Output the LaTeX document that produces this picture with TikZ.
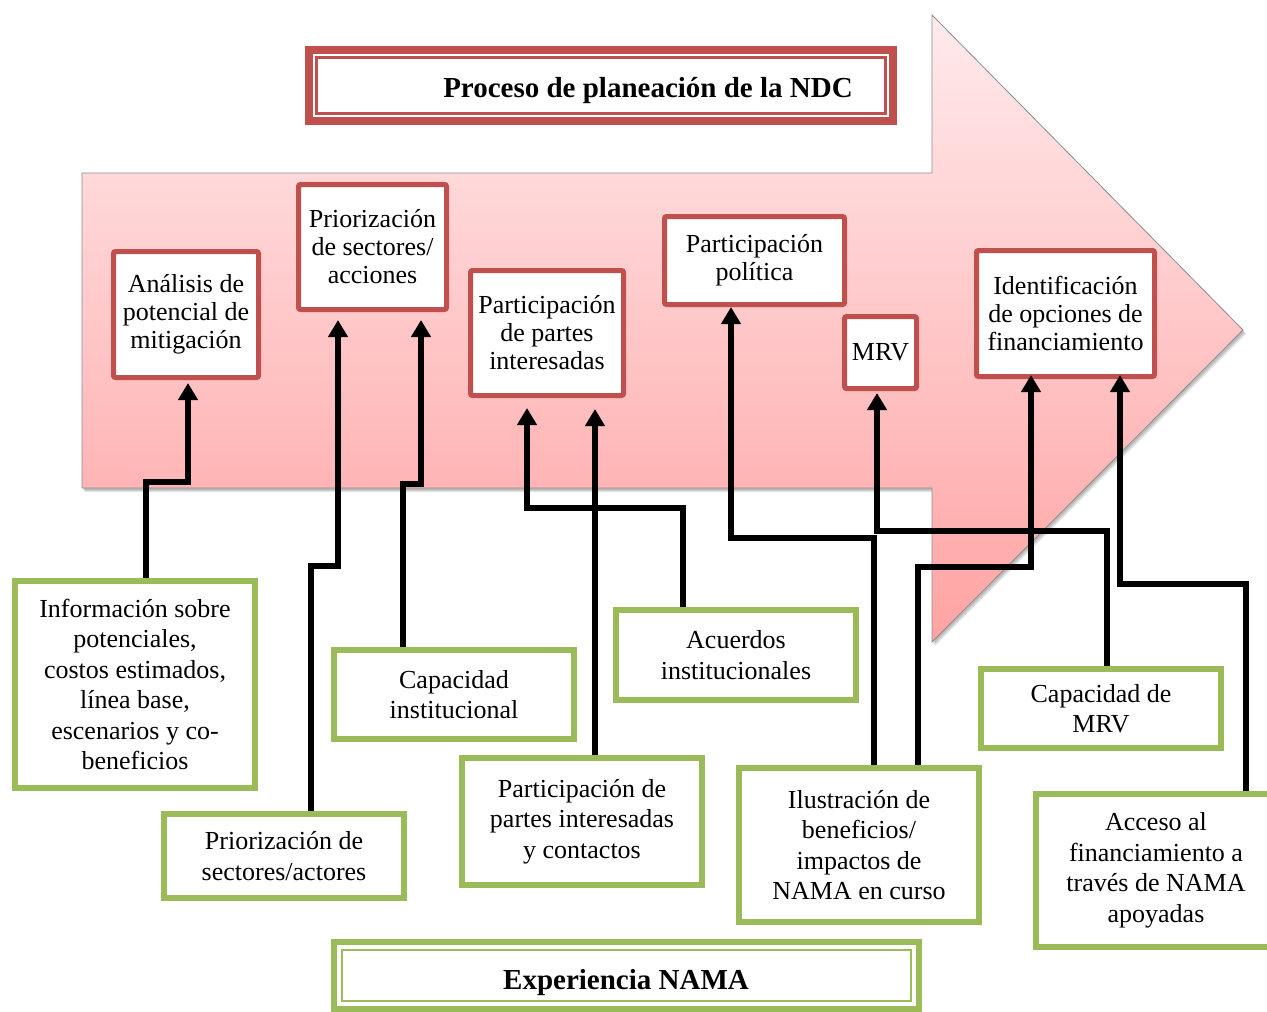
\documentclass[tikz,border=0pt]{standalone}
\usepackage{fontspec}
\setmainfont{Liberation Serif}
\usetikzlibrary{arrows.meta}
\definecolor{nred}{HTML}{C0504D}
\definecolor{ngreen}{HTML}{9BBB59}
\definecolor{pinktop}{HTML}{FFEAEC}
\definecolor{pinkbot}{HTML}{FFA3A3}
\begin{document}
\begin{tikzpicture}[x=1pt,y=-1pt,
  redbox/.style={draw=nred, line width=5pt, fill=white, rounded corners=2pt, inner sep=0pt, align=center, font=\fontsize{26}{28}\selectfont},
  greenbox/.style={draw=ngreen, line width=6pt, fill=white, inner sep=0pt, align=center, font=\fontsize{26}{30.5}\selectfont},
  conn/.style={line width=6pt, line join=miter, -{Triangle[width=19pt,length=17pt]}},
  titletext/.style={font=\fontsize{29}{32}\selectfont\bfseries, inner sep=0pt, anchor=base},
  bigarrow/.style={draw=black!45, line width=0.8pt, top color=pinktop, bottom color=pinkbot},
  shade/.style={fill=black, opacity=0.10},
]
\useasboundingbox (0,0) rectangle (1267,1012);

% big arrow with soft shadow
\foreach \d in {1,2,3}{
  \fill[shade] (82+\d,173+\d+1) -- (932+\d,173+\d+1) -- (932+\d,15+\d+1) -- (1243+\d,330+\d+1) -- (932+\d,642+\d+1) -- (932+\d,488+\d+1) -- (82+\d,488+\d+1) -- cycle;
}
\path[bigarrow] (82,173) -- (932,173) -- (932,15) -- (1243,330) -- (932,642) -- (932,488) -- (82,488) -- cycle;

% title box (top)
\draw[nred, line width=8pt] (309,50) rectangle (893,121);
\draw[nred, line width=2.5pt] (316.5,57.5) rectangle (885.5,113.5);
\node[titletext] (ttop) at (648,97) {Proceso de planeación de la NDC};

% red boxes
\node[redbox, minimum width=145pt, minimum height=126pt] (n1) at (186,314.5) {Análisis de\\potencial de\\mitigación};
\node[redbox, minimum width=148pt, minimum height=125pt] (n2) at (372.5,247) {Priorización\\de sectores/\\acciones};
\node[redbox, minimum width=153pt, minimum height=125pt] (n3) at (547,333) {Participación\\de partes\\interesadas};
\node[redbox, minimum width=180pt, minimum height=88pt] (n4) at (754.5,260.5) {Participación\\política};
\node[redbox, minimum width=72pt, minimum height=72pt] (n5) at (880.5,352.5) {MRV};
\node[redbox, minimum width=178pt, minimum height=126pt] (n6) at (1065.5,313.5) {Identificación\\de opciones de\\financiamiento};

% green boxes
\node[greenbox, minimum width=240pt, minimum height=207pt] (A) at (135,684.5) {Información sobre\\potenciales,\\costos estimados,\\línea base,\\escenarios y co-\\beneficios};
\node[greenbox, minimum width=240pt, minimum height=84pt] (B) at (284,856) {Priorización de\\sectores/actores};
\node[greenbox, minimum width=240pt, minimum height=89pt] (C) at (454,694.5) {Capacidad\\institucional};
\node[greenbox, minimum width=240pt, minimum height=127pt] (D) at (582,821.5) {Participación de\\partes interesadas\\y contactos};
\node[greenbox, minimum width=240pt, minimum height=90pt] (E) at (736,655) {Acuerdos\\institucionales};
\node[greenbox, minimum width=240pt, minimum height=154pt] (F) at (859,845) {Ilustración de\\beneficios/\\impactos de\\NAMA en curso};
\node[greenbox, minimum width=240pt, minimum height=79pt] (G) at (1101,708.5) {Capacidad de\\MRV};
\node[greenbox, minimum width=240pt, minimum height=153pt] (H) at (1156,870.5) {Acceso al\\financiamiento a\\través de NAMA\\apoyadas};

% bottom title box
\draw[ngreen, line width=6pt] (334,942) rectangle (919,1009);
\draw[ngreen, line width=2pt] (342,950) rectangle (911,1001);
\node[titletext] (tbot) at (626,989) {Experiencia NAMA};

% connectors
\draw[conn, shorten >=3pt] (A.north -| 146,0) -- (146,482) -| (n1.south -| 188,0);
\draw[conn, shorten >=8pt] (B.north -| 311,0) -- (311,566) -| (n2.south -| 338,0);
\draw[conn, shorten >=8pt] (C.north -| 403,0) -- (403,484) -| (n2.south -| 421,0);
\draw[conn, shorten >=10pt] (E.north -| 683,0) -- (683,508) -| (n3.south -| 527,0);
\draw[conn, shorten >=11pt] (D.north -| 595,0) -- (n3.south -| 595,0);
\draw[conn, shorten >=0pt] (F.north -| 874,0) -- (874,538) -| (n4.south -| 731,0);
\draw[conn, shorten >=2pt] (G.north -| 1107,0) -- (1107,531) -| (n5.south -| 877,0);
\draw[conn, shorten >=-4pt] (F.north -| 918,0) -- (918,567) -| (n6.south -| 1031,0);
\draw[conn, shorten >=-4pt] (H.north -| 1246,0) -- (1246,584) -| (n6.south -| 1120,0);
\end{tikzpicture}
\end{document}
